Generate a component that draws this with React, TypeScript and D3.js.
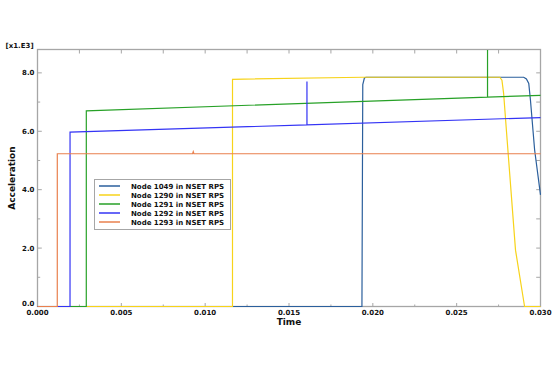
import { useEffect, useRef } from 'react';
import * as d3 from 'd3';

// time (s) / acceleration (x1.E3) pairs
const node1049T = [0, 0.01935, 0.0194, 0.0195, 0.0196, 0.029, 0.02916, 0.0293, 0.0294, 0.02965, 0.03];
const node1049V = [0, 0, 7.6, 7.83, 7.85, 7.85, 7.79, 7.64, 7.07, 5.36, 3.82];

const node1290T = [0, 0.01163, 0.011631, 0.0194, 0.02757, 0.0277, 0.0278, 0.02801, 0.02851, 0.02905, 0.03];
const node1290V = [0, 0, 7.78, 7.85, 7.85, 7.75, 7.3, 5.7, 1.93, 0, 0];

const node1291T = [0, 0.00291, 0.002911, 0.02684, 0.026841, 0.026842, 0.03];
const node1291V = [0, 0, 6.7, 7.17, 8.78, 7.17, 7.23];

const node1292T = [0, 0.00194, 0.001941, 0.01607, 0.016071, 0.016072, 0.03];
const node1292V = [0, 0, 5.97, 6.22, 7.7, 6.22, 6.47];

const node1293T = [0, 0.00118, 0.001181, 0.00925, 0.00929, 0.00933, 0.03];
const node1293V = [0, 0, 5.23, 5.23, 5.3, 5.23, 5.23];

const seriesNames = [
  'Node 1049 in NSET RPS',
  'Node 1290 in NSET RPS',
  'Node 1291 in NSET RPS',
  'Node 1292 in NSET RPS',
  'Node 1293 in NSET RPS',
];
const seriesColors = ['#2b5f9c', '#f7d31a', '#27a127', '#3434f5', '#e9804e'];
const seriesT = [node1049T, node1290T, node1291T, node1292T, node1293T];
const seriesV = [node1049V, node1290V, node1291V, node1292V, node1293V];

const xMajor = [0, 0.005, 0.01, 0.015, 0.02, 0.025, 0.03];
const xMinor = [0.0025, 0.0075, 0.0125, 0.0175, 0.0225, 0.0275];
const yMajor = [0, 2, 4, 6, 8];
const yMinor = [1, 3, 5, 7];

const FONT = '"DejaVu Sans", Verdana, sans-serif';

function App() {
  const svgRef = useRef<SVGSVGElement>(null);

  useEffect(() => {
    const svg = d3.select(svgRef.current);
    svg.selectAll('*').remove();

    const left = 37.5;
    const right = 540.5;
    const top = 49.5;
    const bottom = 306.5;

    const x = d3.scaleLinear().domain([0, 0.03]).range([left, right]);
    const y = d3.scaleLinear().domain([0, 8.8]).range([bottom, top]);

    const frame = svg.append('g').attr('stroke', '#a6a6a6').attr('fill', 'none');
    frame.append('rect')
      .attr('x', left)
      .attr('y', top)
      .attr('width', right - left)
      .attr('height', bottom - top)
      .attr('stroke-width', 1.3);

    // inward ticks on all four sides
    const ticks = svg.append('g').attr('stroke', '#a6a6a6').attr('stroke-width', 1);
    xMajor.concat(xMinor).forEach((t) => {
      const len = xMajor.includes(t) ? 3.5 : 2;
      ticks.append('line').attr('x1', x(t)).attr('x2', x(t)).attr('y1', bottom).attr('y2', bottom - len);
      ticks.append('line').attr('x1', x(t)).attr('x2', x(t)).attr('y1', top).attr('y2', top + 4);
    });
    yMajor.concat(yMinor).forEach((v) => {
      const len = yMajor.includes(v) ? 4.3 : 2.7;
      ticks.append('line').attr('x1', left).attr('x2', left + len).attr('y1', y(v)).attr('y2', y(v));
      ticks.append('line').attr('x1', right).attr('x2', right - 4.3).attr('y1', y(v)).attr('y2', y(v));
    });

    const labels = svg.append('g')
      .attr('font-family', FONT)
      .attr('font-weight', 'bold')
      .attr('font-size', 7)
      .attr('fill', '#111');

    xMajor.forEach((t) => {
      labels.append('text')
        .attr('x', x(t))
        .attr('y', bottom + 8)
        .attr('text-anchor', 'middle')
        .text(d3.format('.3f')(t));
    });
    yMajor.forEach((v) => {
      // the lowest label sits just above the x-axis line
      labels.append('text')
        .attr('x', left - 3)
        .attr('y', v === 0 ? y(v) - 0.5 : y(v) + 2.5)
        .attr('text-anchor', 'end')
        .text(d3.format('.1f')(v));
    });
    labels.append('text').attr('x', 5.5).attr('y', 47.5).text('[x1.E3]');

    svg.append('text')
      .attr('x', (left + right) / 2)
      .attr('y', 325)
      .attr('text-anchor', 'middle')
      .attr('font-family', FONT)
      .attr('font-weight', 'bold')
      .attr('font-size', 9)
      .attr('fill', '#111')
      .text('Time');

    svg.append('text')
      .attr('transform', `translate(15, ${(top + bottom) / 2}) rotate(-90)`)
      .attr('text-anchor', 'middle')
      .attr('font-family', FONT)
      .attr('font-weight', 'bold')
      .attr('font-size', 9)
      .attr('fill', '#111')
      .text('Acceleration');

    const line = d3.line<[number, number]>()
      .x((d) => x(d[0]))
      .y((d) => y(d[1]));

    seriesT.forEach((ts, i) => {
      const pts = ts.map((t, j) => [t, seriesV[i][j]] as [number, number]);
      svg.append('path')
        .datum(pts)
        .attr('fill', 'none')
        .attr('stroke', seriesColors[i])
        .attr('stroke-width', 1.2)
        .attr('d', line);
    });

    // legend
    const lg = svg.append('g').attr('transform', 'translate(94.5, 179.5)');
    lg.append('rect')
      .attr('width', 136)
      .attr('height', 50)
      .attr('fill', '#fff')
      .attr('stroke', '#a6a6a6')
      .attr('stroke-width', 1);
    seriesNames.forEach((name, i) => {
      const cy = 6.5 + i * 9;
      lg.append('line')
        .attr('x1', 4.5)
        .attr('x2', 25.5)
        .attr('y1', cy)
        .attr('y2', cy)
        .attr('stroke', seriesColors[i])
        .attr('stroke-width', 1.5);
      lg.append('text')
        .attr('x', 36.5)
        .attr('y', cy + 2.5)
        .attr('font-family', FONT)
        .attr('font-weight', 'bold')
        .attr('font-size', 7)
        .attr('fill', '#111')
        .text(name);
    });
  }, []);

  return (
    <svg
      ref={svgRef}
      width={554}
      height={369}
      style={{ position: 'absolute', left: 0, top: 0, background: '#fff' }}
    />
  );
}

export default App;
